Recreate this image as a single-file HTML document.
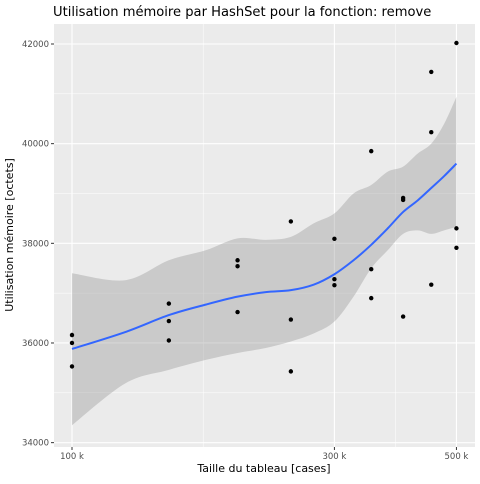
<!DOCTYPE html>
<html><head><meta charset="utf-8"><style>
body{margin:0;background:#fff;font-family:"DejaVu Sans","Liberation Sans",sans-serif;}
</style></head><body>
<svg id="c" width="480" height="480" xmlns="http://www.w3.org/2000/svg" font-family="DejaVu Sans, Liberation Sans, sans-serif">
<text x="53" y="16" font-size="13.1" fill="#000">Utilisation mémoire par HashSet pour la fonction: remove</text>
<rect x="54" y="24" width="421" height="423" fill="#ebebeb"/>
<g id="grid"></g><g id="band"></g><g id="pts"></g><g id="axes"></g>
<text x="264" y="472" font-size="11" text-anchor="middle" fill="#000">Taille du tableau [cases]</text>
<text transform="translate(13,235) rotate(-90)" font-size="11" text-anchor="middle" fill="#000">Utilisation mémoire [octets]</text>
</svg>
<script>
const xTicks=[100000,300000,500000];
const xTickLabels=["100 k","300 k","500 k"];
const xMinor=[173205,387298];
const yTicks=[34000,36000,38000,40000,42000];
const yMinor=[35000,37000,39000,41000];
const ptX=[100000,100000,100000,150000,150000,150000,200000,200000,200000,250000,250000,250000,300000,300000,300000,350000,350000,350000,400000,400000,400000,450000,450000,450000,500000,500000,500000];
const ptY=[36160,36000,35530,36790,36440,36050,37660,37540,36620,38440,36470,35430,38090,37280,37160,39850,37480,36900,38910,38870,36530,41440,40230,37170,42020,38300,37910];
const fitX=[100000,125000,150000,175000,200000,225000,250000,275000,300000,325000,350000,375000,400000,425000,450000,475000,500000];
const fitY=[35880,36220,36560,36770,36930,37020,37060,37170,37380,37660,37970,38300,38630,38860,39110,39350,39600];
const fitHi=[37400,37260,37660,37860,38100,38070,38130,38400,38600,39000,39170,39440,39540,39800,40000,40400,40940];
const fitLo=[34350,35190,35460,35660,35800,35900,36030,36190,36430,36930,37500,37860,38190,38260,38190,38260,38330];
const NS="http://www.w3.org/2000/svg";
const xs=v=>72+Math.log10(v/100000)*550;
const ys=v=>44+(42000-v)*0.04983;
function mk(t,a,p){const e=document.createElementNS(NS,t);for(const k in a)e.setAttribute(k,a[k]);document.getElementById(p).appendChild(e);return e;}
function spline(P,start){let d=start?'M'+P[0][0]+','+P[0][1]:'L'+P[0][0]+','+P[0][1];
for(let i=0;i<P.length-1;i++){const p0=P[Math.max(0,i-1)],p1=P[i],p2=P[i+1],p3=P[Math.min(P.length-1,i+2)];
const c1=[p1[0]+(p2[0]-p0[0])/6,p1[1]+(p2[1]-p0[1])/6],c2=[p2[0]-(p3[0]-p1[0])/6,p2[1]-(p3[1]-p1[1])/6];
d+='C'+c1[0]+','+c1[1]+' '+c2[0]+','+c2[1]+' '+p2[0]+','+p2[1];}return d;}
yMinor.forEach(v=>{const l=mk('line',{x1:54,x2:475,y1:ys(v),y2:ys(v),stroke:'#fff','stroke-width':0.5},'grid');});
xMinor.forEach(v=>{const l=mk('line',{x1:xs(v),x2:xs(v),y1:24,y2:447,stroke:'#fff','stroke-width':0.5},'grid');});
yTicks.forEach(v=>{const y=ys(v);const l=mk('line',{x1:54,x2:475,y1:y,y2:y,stroke:'#fff','stroke-width':1.1},'grid');
const t=mk('line',{x1:51,x2:54,y1:y,y2:y,stroke:'#333','stroke-width':1},'axes');
const tx=mk('text',{x:49,y:y+3,'font-size':8.5,'text-anchor':'end',fill:'#4d4d4d'},'axes');tx.textContent=v;});
xTicks.forEach((v,i)=>{const x=xs(v);const l=mk('line',{x1:x,x2:x,y1:24,y2:447,stroke:'#fff','stroke-width':1.1},'grid');
const t=mk('line',{x1:x,x2:x,y1:447,y2:450,stroke:'#333','stroke-width':1},'axes');
const tx=mk('text',{x:x,y:459,'font-size':8.5,'text-anchor':'middle',fill:'#4d4d4d'},'axes');tx.textContent=xTickLabels[i];});
const hi=fitX.map((v,i)=>[xs(v),ys(fitHi[i])]);
const lo=fitX.map((v,i)=>[xs(v),ys(fitLo[i])]).reverse();
const d=spline(hi,true)+spline(lo,false)+'Z';
const b=mk('path',{d:d,fill:'#999',opacity:0.4},'band');
const fp=fitX.map((v,i)=>[xs(v),ys(fitY[i])]);
const fl=mk('path',{d:spline(fp,true),fill:'none',stroke:'#3366ff','stroke-width':2},'band');
ptX.forEach((v,i)=>{const c=mk('circle',{cx:xs(v),cy:ys(ptY[i]),r:2.2,fill:'#000'},'pts');});
</script>
</body></html>
